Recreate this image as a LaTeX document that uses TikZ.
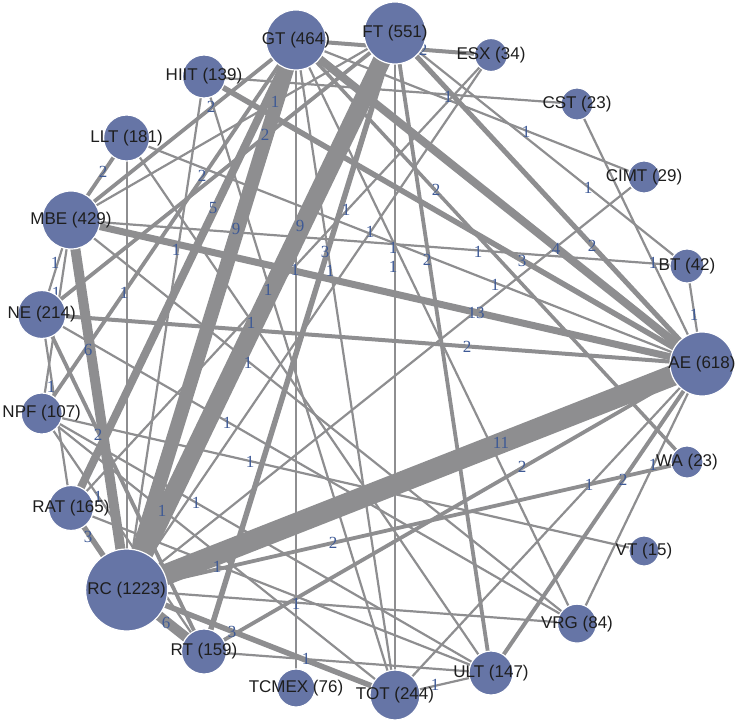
\documentclass[tikz,border=0pt]{standalone}
\usepackage{fontspec}
\setmainfont{Liberation Serif}
\newfontfamily\nodefont{Liberation Sans}
\definecolor{nodefill}{RGB}{102,117,166}
\definecolor{edgegray}{RGB}{142,142,144}
\definecolor{lblblue}{RGB}{62,90,150}
\definecolor{txtc}{RGB}{30,30,30}
\pgfdeclarelayer{edges}
\pgfdeclarelayer{elabels}
\pgfsetlayers{edges,elabels,main}
\tikzset{
  nd/.style={circle, fill=nodefill, draw=white, line width=1.2pt, inner sep=0pt, minimum size=#1},
  ntext/.style={font=\nodefont\fontsize{17}{17}\selectfont, text=txtc, inner sep=0pt},
  ed/.style={draw=edgegray, line width=#1},
  el/.style={font=\fontsize{17}{17}\selectfont, text=lblblue, inner sep=0pt},
}
\newcommand{\gnode}[5]{\node[nd=#4, label={[ntext,name=t#1]center:#5}] (#1) at (#2,#3) {};}
\newcommand{\gedge}[3]{\draw[ed=#3] (#1.center) -- (#2.center);}
\begin{document}
\begin{tikzpicture}[x=1pt,y=-1pt]
\useasboundingbox (0,0) rectangle (736,722);
% nodes
\gnode{AE}{702}{364}{64}{AE (618)}
\gnode{BT}{687}{266}{34}{BT (42)}
\gnode{CIMT}{644}{177}{32}{CIMT (29)}
\gnode{CST}{577}{104}{32}{CST (23)}
\gnode{ESX}{491}{55}{33}{ESX (34)}
\gnode{FT}{395}{33}{62}{FT (551)}
\gnode{GT}{296}{40}{60}{GT (464)}
\gnode{HIIT}{204}{76.5}{43}{HIIT (139)}
\gnode{LLT}{126.6}{138}{46}{LLT (181)}
\gnode{MBE}{71}{220}{58}{MBE (429)}
\gnode{NE}{41.7}{314.5}{48}{NE (214)}
\gnode{NPF}{41.7}{413.5}{41}{NPF (107)}
\gnode{RAT}{71}{508}{45}{RAT (165)}
\gnode{RC}{126.6}{590}{82}{RC (1223)}
\gnode{RT}{204}{651.5}{45}{RT (159)}
\gnode{TCMEX}{296}{688}{38}{TCMEX (76)}
\gnode{TOT}{395}{695}{50}{TOT (244)}
\gnode{ULT}{491}{673}{44}{ULT (147)}
\gnode{VRG}{577}{623.6}{39}{VRG (84)}
\gnode{VT}{644}{551}{30}{VT (15)}
\gnode{WA}{687}{462}{32}{WA (23)}
% edges
\begin{pgfonlayer}{edges}
\gedge{AE}{BT}{2.2}
\gedge{AE}{CST}{2.2}
\gedge{AE}{FT}{5}
\gedge{AE}{GT}{8}
\gedge{AE}{HIIT}{5.5}
\gedge{AE}{LLT}{2.2}
\gedge{AE}{MBE}{7}
\gedge{AE}{NE}{4}
\gedge{AE}{RC}{21}
\gedge{AE}{RT}{3.8}
\gedge{AE}{TOT}{2.2}
\gedge{AE}{ULT}{4}
\gedge{AE}{VRG}{2.2}
\gedge{BT}{FT}{2.2}
\gedge{BT}{MBE}{2.2}
\gedge{CIMT}{GT}{2.2}
\gedge{CIMT}{RC}{2.2}
\gedge{CST}{HIIT}{2.2}
\gedge{ESX}{GT}{4}
\gedge{ESX}{RAT}{2.2}
\gedge{ESX}{RC}{2.2}
\gedge{FT}{MBE}{2.2}
\gedge{FT}{NE}{3.8}
\gedge{FT}{RC}{18}
\gedge{FT}{RT}{5.5}
\gedge{FT}{TOT}{2.2}
\gedge{FT}{ULT}{3.8}
\gedge{GT}{MBE}{3.8}
\gedge{GT}{NPF}{3.8}
\gedge{GT}{RAT}{8}
\gedge{GT}{RC}{14}
\gedge{GT}{TCMEX}{2.2}
\gedge{GT}{TOT}{2.2}
\gedge{GT}{VRG}{2.2}
\gedge{GT}{WA}{3.5}
\gedge{HIIT}{RC}{2.2}
\gedge{HIIT}{TOT}{2.2}
\gedge{LLT}{MBE}{3.8}
\gedge{LLT}{RC}{2.2}
\gedge{LLT}{ULT}{2.2}
\gedge{MBE}{NE}{2.2}
\gedge{MBE}{NPF}{2.2}
\gedge{MBE}{RC}{10}
\gedge{MBE}{VRG}{2.2}
\gedge{NE}{RAT}{2.2}
\gedge{NE}{RT}{3.8}
\gedge{NE}{VRG}{2.2}
\gedge{NPF}{RT}{2.2}
\gedge{NPF}{TOT}{2.2}
\gedge{NPF}{ULT}{2.2}
\gedge{NPF}{VT}{2.2}
\gedge{RAT}{RC}{5.5}
\gedge{RAT}{ULT}{2.2}
\gedge{RC}{RT}{10}
\gedge{RC}{TOT}{5.5}
\gedge{RC}{VRG}{2.2}
\gedge{RC}{WA}{3.8}
\gedge{RT}{ULT}{2.2}
\gedge{TOT}{ULT}{2.2}
\end{pgfonlayer}
% edge labels
\begin{pgfonlayer}{elabels}
\node[el] (l1) at (423,50) {2};
\node[el] (l2) at (448,97) {1};
\node[el] (l3) at (526,132) {1};
\node[el] (l4) at (588,188) {1};
\node[el] (l5) at (436,190) {2};
\node[el] (l6) at (211,107) {2};
\node[el] (l7) at (275,102) {1};
\node[el] (l8) at (265,135) {2};
\node[el] (l9) at (103,172) {2};
\node[el] (l10) at (202,176) {2};
\node[el] (l11) at (213,208) {5};
\node[el] (l12) at (236,229) {9};
\node[el] (l13) at (300,226) {9};
\node[el] (l14) at (346,210) {1};
\node[el] (l15) at (370,232) {1};
\node[el] (l16) at (393,248) {1};
\node[el] (l17) at (393,267) {1};
\node[el] (l18) at (427,260) {2};
\node[el] (l19) at (478,252) {1};
\node[el] (l20) at (556,249) {4};
\node[el] (l21) at (592,246) {2};
\node[el] (l22) at (522,261) {3};
\node[el] (l23) at (653,263) {1};
\node[el] (l24) at (55,263) {1};
\node[el] (l25) at (176,250) {1};
\node[el] (l26) at (325,252) {3};
\node[el] (l27) at (295,270) {1};
\node[el] (l28) at (330,271) {1};
\node[el] (l29) at (268,290) {1};
\node[el] (l30) at (124,293) {1};
\node[el] (l31) at (495,285) {1};
\node[el] (l32) at (251,323) {1};
\node[el] (l33) at (476,313) {13};
\node[el] (l34) at (694,315) {1};
\node[el] (l35) at (88,350) {6};
\node[el] (l36) at (467,347) {2};
\node[el] (l37) at (248,363) {1};
\node[el] (l38) at (51,387) {1};
\node[el] (l39) at (227,423) {1};
\node[el] (l40) at (98,435) {2};
\node[el] (l41) at (501,443) {11};
\node[el] (l42) at (250,462) {1};
\node[el] (l43) at (522,467) {2};
\node[el] (l44) at (653,465) {1};
\node[el] (l45) at (623,480) {2};
\node[el] (l46) at (589,485) {1};
\node[el] (l47) at (98,497) {1};
\node[el] (l48) at (196,503) {1};
\node[el] (l49) at (162,511) {1};
\node[el] (l50) at (333,543) {2};
\node[el] (l51) at (217,567) {1};
\node[el] (l52) at (88,537) {3};
\node[el] (l53) at (296,604) {1};
\node[el] (l54) at (166,623) {6};
\node[el] (l55) at (232,632) {3};
\node[el] (l56) at (306,659) {1};
\node[el] (l57) at (435,685) {1};
\node[el] (l58) at (56,293) {1};
\end{pgfonlayer}
\end{tikzpicture}
\end{document}
